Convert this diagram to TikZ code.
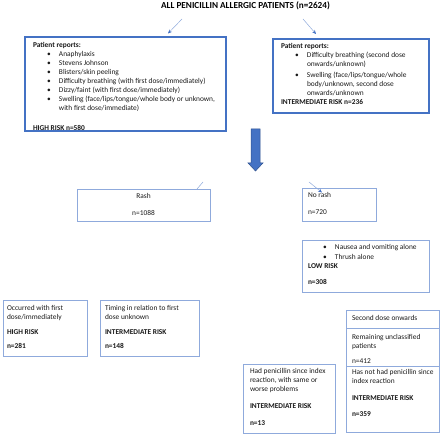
\documentclass[tikz,border=0pt]{standalone}
\usepackage{fontspec}
\setmainfont{Carlito}
\usetikzlibrary{arrows.meta}
\definecolor{thickblue}{HTML}{4472C4}
\definecolor{lightblue}{HTML}{8FAADC}
\definecolor{darkblue}{HTML}{2F528F}
\newcommand\blt[2]{\hspace*{#1}\makebox[12pt][l]{\textbullet}#2}
\newcommand\cnt[2]{\hspace*{#1}\hspace*{12pt}#2}
\tikzset{
  thickbox/.style={draw=thickblue, line width=1.8pt},
  thinbox/.style={draw=lightblue, line width=0.9pt},
  txt/.style={font=\fontsize{7.4}{9}\selectfont, inner sep=0pt, outer sep=0pt, anchor=north west, align=left, text=black!90},
  ctxt/.style={txt, anchor=north, align=center},
  conn/.style={draw=lightblue, line width=0.5pt, -{Stealth[length=4pt,width=3.5pt,color=thickblue]}},
  plainconn/.style={draw=lightblue, line width=0.5pt}
}
\begin{document}
\begin{tikzpicture}[x=1pt,y=-1pt]
\useasboundingbox (0,0) rectangle (440,435);
% title
\node[font=\fontsize{9.2}{10}\selectfont\bfseries, inner sep=0pt, anchor=base] (title) at (245.5,8.5) {ALL PENICILLIN ALLERGIC PATIENTS (n=2624)};
% arrows from title
\coordinate (a1s) at (182,19); \coordinate (a1e) at (168,33.5);
\coordinate (a2s) at (303,19); \coordinate (a2e) at (316,34);
\draw[conn] (a1s) -- (a1e);
\draw[conn] (a2s) -- (a2e);
% left high risk box
\begin{scope}
\clip (26,38) rectangle (225,129.8);
\node[txt, anchor=base west] (hrisk) at (33,130.5) {\textbf{HIGH RISK n=580}};
\end{scope}
\draw[thickbox] (25,37) rectangle (226,131);
\node[txt] (hrtext) at (33,41.7) {\strut\textbf{Patient reports:}\\
\blt{14pt}{Anaphylaxis}\\
\blt{14pt}{Stevens Johnson}\\
\blt{14pt}{Blisters/skin peeling}\\
\blt{14pt}{Difficulty breathing (with first dose/immediately)}\\
\blt{14pt}{Dizzy/faint (with first dose/immediately)}\\
\blt{14pt}{Swelling (face/lips/tongue/whole body or unknown,}\\
\cnt{14pt}{with first dose/immediate)}};
% right intermediate box
\draw[thickbox] (273,39) rectangle (429,113);
\node[txt] (irtext) at (281,42.7) {\strut\textbf{Patient reports:}\\
\blt{14pt}{Difficulty breathing (second dose}\\
\cnt{14pt}{onwards/unknown)}\\[1.5pt]
\blt{14pt}{Swelling (face/lips/tongue/whole}\\
\cnt{14pt}{body/unknown, second dose}\\
\cnt{14pt}{onwards/unknown}\\
\textbf{INTERMEDIATE RISK n=236}};
% big arrow
\filldraw[fill=thickblue, draw=darkblue, line width=0.5pt] (251,129) -- (260,129) -- (260,163) -- (263,163) -- (255.5,171) -- (248,163) -- (251,163) -- cycle;
% rash
\node[thinbox, minimum width=133pt, minimum height=32pt, anchor=north west, inner sep=0pt] (rash) at (77,189) {};
\node[ctxt] (rashtext) at (143.5,192.7) {\strut Rash\\[8pt] n=1088};
\coordinate (r1s) at (203,182); \coordinate (r1e) at (197,189);
\draw[plainconn] (r1s) -- (r1e);
% no rash
\node[thinbox, minimum width=74pt, minimum height=33pt, anchor=north west, inner sep=0pt] (norash) at (302,188) {};
\node[txt] (norashtext) at (308,191.7) {\strut No rash\\[8pt] n=720};
\coordinate (n1s) at (309,182); \coordinate (n1e) at (322,192.5);
\draw[conn] (n1s) -- (n1e);
% low risk
\node[thinbox, minimum width=127pt, minimum height=52pt, anchor=north west, inner sep=0pt] (low) at (302,240) {};
\node[txt] (lowtext) at (308,243.7) {\strut\blt{15pt}{Nausea and vomiting alone}\\[1pt]
\blt{15pt}{Thrush alone}\\
\textbf{LOW RISK}\\[7pt]
\textbf{n=308}};
% box A
\node[thinbox, minimum width=84pt, minimum height=56pt, anchor=north west, inner sep=0pt] (boxa) at (3,300) {};
\node[txt] (boxatext) at (7,304.7) {\strut Occurred with first\\
dose/immediately\\[5.5pt]
\textbf{HIGH RISK}\\[5.5pt]
\textbf{n=281}};
% box B
\node[thinbox, minimum width=99pt, minimum height=56pt, anchor=north west, inner sep=0pt] (boxb) at (100,300) {};
\node[txt] (boxbtext) at (105,304.7) {\strut Timing in relation to first\\
dose unknown\\[5.5pt]
\textbf{INTERMEDIATE RISK}\\[5.5pt]
\textbf{n=148}};
% second dose
\node[thinbox, minimum width=93pt, minimum height=18pt, anchor=north west, inner sep=0pt] (second) at (346,310) {};
\node[txt] (secondtext) at (352,314.7) {\strut Second dose onwards};
% remaining
\node[thinbox, minimum width=93pt, minimum height=38pt, anchor=north west, inner sep=0pt] (remain) at (346,328) {};
\node[txt] (remaintext) at (352,333.7) {\strut Remaining unclassified\\
patients\\[6pt]
n=412};
% has not
\node[thinbox, minimum width=93pt, minimum height=66pt, anchor=north west, inner sep=0pt] (hasnot) at (346,366) {};
\node[txt] (hasnottext) at (352,368.7) {\strut Has not had penicillin since\\
index reaction\\[8pt]
\textbf{INTERMEDIATE RISK}\\[7pt]
\textbf{n=359}};
% had penicillin
\node[thinbox, minimum width=92pt, minimum height=69pt, anchor=north west, inner sep=0pt] (had) at (243,364) {};
\node[txt] (hadtext) at (250,367.7) {\strut Had penicillin since index\\
reaction, with same or\\
worse problems\\[8pt]
\textbf{INTERMEDIATE RISK}\\[8pt]
\textbf{n=13}};
\end{tikzpicture}
\end{document}
